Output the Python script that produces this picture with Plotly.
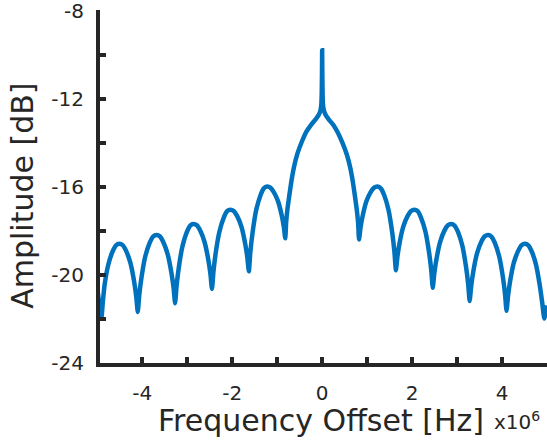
import plotly.graph_objects as go

# Frequency offset (x10^6 Hz) and amplitude (dB)
freq_mhz = [
    -5.0, -4.91, -4.877, -4.838, -4.756, -4.658, -4.584, -4.51, -4.436, -4.362, -4.264, -4.182, -4.133,
    -4.10, -4.067, -4.017, -3.934, -3.834, -3.76, -3.685, -3.61, -3.536, -3.436, -3.353, -3.303,
    -3.27, -3.237, -3.188, -3.106, -3.008, -2.934, -2.86, -2.786, -2.712, -2.614, -2.532, -2.483,
    -2.45, -2.417, -2.368, -2.286, -2.188, -2.114, -2.04, -1.966, -1.892, -1.794, -1.712, -1.663,
    -1.63, -1.598, -1.549, -1.468, -1.371, -1.298, -1.225, -1.152, -1.079, -0.982, -0.901, -0.852,
    -0.82, -0.80, -0.77, -0.73, -0.68, -0.62, -0.55, -0.45, -0.35, -0.25, -0.15, -0.08, -0.04, -0.02, -0.01, -0.004,
    0.0,
    0.004, 0.01, 0.02, 0.04, 0.08, 0.15, 0.25, 0.35, 0.45, 0.55, 0.62, 0.68, 0.73, 0.77, 0.80,
    0.82, 0.853, 0.902, 0.984, 1.082, 1.156, 1.23, 1.304, 1.378, 1.476, 1.558, 1.607,
    1.64, 1.673, 1.722, 1.804, 1.902, 1.976, 2.05, 2.124, 2.198, 2.296, 2.378, 2.427,
    2.46, 2.493, 2.542, 2.624, 2.722, 2.796, 2.87, 2.944, 3.018, 3.116, 3.198, 3.247,
    3.28, 3.313, 3.362, 3.444, 3.542, 3.616, 3.69, 3.764, 3.838, 3.936, 4.018, 4.067,
    4.10, 4.133, 4.182, 4.264, 4.362, 4.436, 4.51, 4.584, 4.658, 4.756, 4.838, 4.895,
    4.94, 5.0,
]
amp_db = [
    -20.6, -22.0, -21.25, -20.47, -19.55, -18.94, -18.67, -18.6, -18.66, -18.91, -19.47, -20.31, -21.02,
    -21.7, -20.93, -20.13, -19.18, -18.55, -18.27, -18.2, -18.26, -18.51, -19.07, -19.91, -20.62,
    -21.3, -20.51, -19.68, -18.71, -18.06, -17.77, -17.7, -17.76, -18.0, -18.53, -19.32, -20.0,
    -20.65, -19.86, -19.03, -18.06, -17.41, -17.12, -17.05, -17.11, -17.33, -17.83, -18.59, -19.23,
    -19.85, -19.0, -18.12, -17.08, -16.39, -16.08, -16.0, -16.05, -16.24, -16.66, -17.29, -17.83,
    -18.35, -17.6, -17.0, -16.4, -15.7, -15.05, -14.5, -13.95, -13.5, -13.2, -12.95, -12.75, -12.55, -12.3, -11.8, -10.9,
    -9.8,
    -10.9, -11.8, -12.3, -12.55, -12.75, -12.95, -13.2, -13.55, -14.0, -14.55, -15.1, -15.75, -16.45, -17.05, -17.65,
    -18.4, -17.87, -17.32, -16.67, -16.24, -16.05, -16.0, -16.08, -16.38, -17.06, -18.09, -18.96,
    -19.8, -19.2, -18.56, -17.82, -17.33, -17.11, -17.05, -17.12, -17.41, -18.04, -19.0, -19.82,
    -20.6, -19.96, -19.3, -18.51, -17.99, -17.76, -17.7, -17.77, -18.05, -18.68, -19.63, -20.43,
    -21.2, -20.54, -19.85, -19.04, -18.5, -18.26, -18.2, -18.27, -18.55, -19.17, -20.1, -20.89,
    -21.65, -20.98, -20.28, -19.45, -18.91, -18.66, -18.6, -18.67, -18.94, -19.55, -20.47, -21.3,
    -22.0, -21.4,
]

x_tickvals = [-5, -4, -3, -2, -1, 0, 1, 2, 3, 4, 5]
x_ticktext = ["", "-4", "", "-2", "", "0", "", "2", "", "4", ""]
y_tickvals = [-24, -22, -20, -18, -16, -14, -12, -10, -8]
y_ticktext = ["-24", "", "-20", "", "-16", "", "-12", "", "-8"]

axis_color = "#262626"
font_family = "DejaVu Sans"

fig = go.Figure()
fig.add_trace(go.Scatter(
    x=freq_mhz, y=amp_db, mode="lines",
    line=dict(color="#0072BD", width=4.5, shape="spline", smoothing=0.5),
    hoverinfo="skip", showlegend=False,
))

fig.update_layout(
    template="none",
    width=547, height=442,
    margin=dict(l=100, r=0, t=10, b=79, pad=0, autoexpand=False),
    paper_bgcolor="white", plot_bgcolor="white",
    font=dict(family=font_family, color=axis_color, size=20),
    xaxis=dict(
        range=[-4.94, 5.0], showgrid=False, zeroline=False, automargin=False,
        showline=True, linecolor=axis_color, linewidth=4,
        ticks="inside", ticklen=6, tickwidth=4, tickcolor=axis_color,
        tickvals=x_tickvals, ticktext=x_ticktext, ticklabeloverflow="allow",
        tickfont=dict(size=20, family=font_family, color=axis_color),
        ticklabelstandoff=9,
    ),
    yaxis=dict(
        range=[-24.02, -7.97], showgrid=False, zeroline=False, automargin=False,
        showline=True, linecolor=axis_color, linewidth=4,
        ticks="inside", ticklen=6, tickwidth=4, tickcolor=axis_color,
        tickvals=y_tickvals, ticktext=y_ticktext, ticklabeloverflow="allow",
        tickfont=dict(size=20, family=font_family, color=axis_color),
        ticklabelstandoff=8,
    ),
    annotations=[
        dict(text="Frequency Offset [Hz]", xref="paper", yref="paper",
             x=0.494, y=-0.1615, xanchor="center", yanchor="middle",
             showarrow=False, font=dict(size=30, family=font_family, color=axis_color)),
        dict(text="Amplitude [dB]", xref="paper", yref="paper",
             x=-0.175, y=0.473, xanchor="center", yanchor="middle", textangle=-90,
             showarrow=False, font=dict(size=30, family=font_family, color=axis_color)),
        dict(text="x10<sup>6</sup>", xref="paper", yref="paper",
             x=0.988, y=-0.155, yshift=-3, xanchor="right", yanchor="middle",
             showarrow=False, font=dict(size=20, family=font_family, color=axis_color)),
    ],
)

fig.write_html("out.html", config={"displayModeBar": False},
               post_script="document.body.style.margin='0px';")
